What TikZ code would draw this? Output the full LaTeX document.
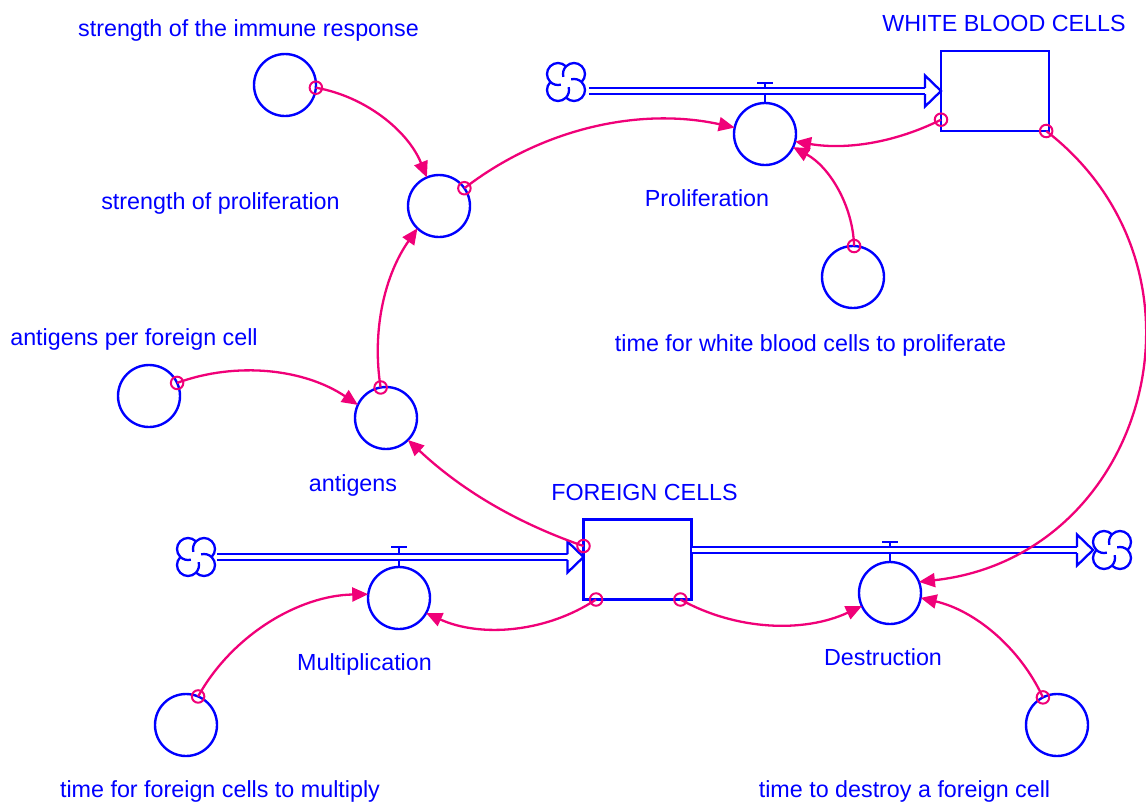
\documentclass[tikz,border=0pt]{standalone}
\usepackage{fontspec}
\setmainfont{Liberation Sans}
\usetikzlibrary{arrows.meta,calc}
\definecolor{vblue}{RGB}{0,0,255}
\definecolor{vpink}{RGB}{240,0,120}
\tikzset{
  aux/.style={circle,draw=vblue,line width=2.4pt,minimum size=62pt,inner sep=0pt,outer sep=0pt},
  stock/.style={rectangle,draw=vblue,line width=2.6pt,minimum width=108pt,minimum height=80pt,inner sep=0pt,outer sep=0pt},
  lbl/.style={text=vblue,font=\fontsize{23.3}{28}\selectfont,anchor=base,inner sep=0pt},
  conn/.style={draw=vpink,line width=2.3pt,-{Triangle[length=16pt,width=14pt]},looseness=0.9},
  sdot/.style={circle,draw=vpink,line width=2pt,minimum size=12.5pt,inner sep=0pt},
  pipe/.style={draw=vblue,line width=2.3pt,double=white,double distance=3.8pt},
  bluel/.style={draw=vblue,line width=2.3pt},
  vcloud/.pic={
    \node[minimum size=38pt,inner sep=0pt,outer sep=0pt] (-n) at (0,0) {};
    \foreach \k in {0,1,2,3}{
      \draw[bluel] ({11.3*cos(45+90*\k)+11*cos(-45+90*\k)},{11.3*sin(45+90*\k)+11*sin(-45+90*\k)})
        arc[start angle=-45+90*\k, end angle=195+90*\k, radius=11];
    }
  }
}
\begin{document}
\begin{tikzpicture}[x=1pt,y=1pt]
\useasboundingbox (0,0) rectangle (1146,-806);

% stocks
\node[stock] (wbc) at (995,-91) {};
\node[stock] (fc) at (637.5,-559.5) {};

% auxiliaries and valves
\node[aux] (sir) at (285,-85) {};
\node[aux] (sop) at (439,-206) {};
\node[aux] (prolif) at (765,-134) {};
\node[aux] (twp) at (853,-277) {};
\node[aux] (apf) at (149,-396) {};
\node[aux] (ant) at (386,-418) {};
\node[aux] (mult) at (399,-598) {};
\node[aux] (dest) at (890,-593) {};
\node[aux] (tfm) at (186,-725) {};
\node[aux] (tdf) at (1057,-725) {};

% clouds
\pic (cl1) at (566,-82) {vcloud};
\pic (cl2) at (196,-557) {vcloud};
\pic (cl3) at (1112,-550) {vcloud};

% valve stems and bars
\draw[bluel] (prolif.north) -- ++(0,20) coordinate (t1);
\draw[bluel] ($(t1)+(-8,0)$) -- ($(t1)+(8,0)$);
\draw[bluel] (mult.north) -- ++(0,20) coordinate (t2);
\draw[bluel] ($(t2)+(-8,0)$) -- ($(t2)+(8,0)$);
\draw[bluel] (dest.north) -- ++(0,20) coordinate (t3);
\draw[bluel] ($(t3)+(-8,0)$) -- ($(t3)+(8,0)$);

% pipes
\coordinate (a1) at (wbc.west);
\draw[pipe] ($(cl1-n.east |- a1)+(4,0)$) -- ($(a1)+(-16,0)$);
\fill[white] ($(a1)+(-16,15.5)$) -- (a1) -- ($(a1)+(-16,-15.5)$) -- cycle;
\draw[bluel,line join=miter] ($(a1)+(-16,3)$) -- ++(0,12.5) -- (a1) -- ($(a1)+(-16,-15.5)$) -- ++(0,12.5);

\coordinate (a2) at (fc.west |- cl2-n.east);
\draw[pipe] ($(cl2-n.east)+(2,0)$) -- ($(a2)+(-16,0)$);
\fill[white] ($(a2)+(-16,15.5)$) -- (a2) -- ($(a2)+(-16,-15.5)$) -- cycle;
\draw[bluel,line join=miter] ($(a2)+(-16,3)$) -- ++(0,12.5) -- (a2) -- ($(a2)+(-16,-15.5)$) -- ++(0,12.5);

\coordinate (a3) at (cl3-n.west);
\draw[pipe] (fc.east |- a3) -- ($(a3)+(-16,0)$);
\fill[white] ($(a3)+(-16,15.5)$) -- (a3) -- ($(a3)+(-16,-15.5)$) -- cycle;
\draw[bluel,line join=miter] ($(a3)+(-16,3)$) -- ++(0,12.5) -- (a3) -- ($(a3)+(-16,-15.5)$) -- ++(0,12.5);

% connectors
\draw[conn] (sir.-5) to[bend left=29] (sop.113);
\draw[conn] (sop.35) to[bend left=25] (prolif.168);
\draw[conn] (wbc.208) to[bend left=18] (prolif.-14);
\draw[conn] (twp.88) to[bend right=30] (prolif.-25);
\draw[conn] (apf.25) to[bend left=27] (ant.155);
\draw[conn] (ant.100) to[bend left=22] (sop.226);
\draw[conn] (fc.166) to[bend left=12] (ant.-45);
\draw[conn] (fc.224) to[bend left=29] (mult.-29);
\draw[conn] (tfm.67) to[bend left=30] (mult.173);
\draw[conn] (fc.-43) to[bend right=27] (dest.205);
\draw[conn] (wbc.-38) to[bend left=68,looseness=1.25] (dest.21);
\draw[conn] (tdf.117) to[bend right=26] (dest.-9);

% start markers
\node[sdot] (d1) at (sir.-5) {};
\node[sdot] (d2) at (sop.35) {};
\node[sdot] (d3) at (wbc.208) {};
\node[sdot] (d4) at (twp.88) {};
\node[sdot] (d5) at (apf.25) {};
\node[sdot] (d6) at (ant.100) {};
\node[sdot] (d7) at (fc.166) {};
\node[sdot] (d8) at (fc.224) {};
\node[sdot] (d9) at (tfm.67) {};
\node[sdot] (d10) at (fc.-43) {};
\node[sdot] (d11) at (wbc.-38) {};
\node[sdot] (d12) at (tdf.117) {};

% labels
\node[lbl] (l1) at (248.5,-36.7) {strength of the immune response};
\node[lbl] (l2) at (220.5,-209) {strength of proliferation};
\node[lbl] (l3) at (1004,-31) {WHITE BLOOD CELLS};
\node[lbl] (l4) at (707,-206) {Proliferation};
\node[lbl] (l5) at (810.5,-351) {time for white blood cells to proliferate};
\node[lbl] (l6) at (134,-345) {antigens per foreign cell};
\node[lbl] (l7) at (353,-491) {antigens};
\node[lbl] (l8) at (644.5,-500) {FOREIGN CELLS};
\node[lbl] (l9) at (364.5,-670) {Multiplication};
\node[lbl] (l10) at (883,-665) {Destruction};
\node[lbl] (l11) at (220,-797) {time for foreign cells to multiply};
\node[lbl] (l12) at (904.5,-797) {time to destroy a foreign cell};
\end{tikzpicture}
\end{document}
